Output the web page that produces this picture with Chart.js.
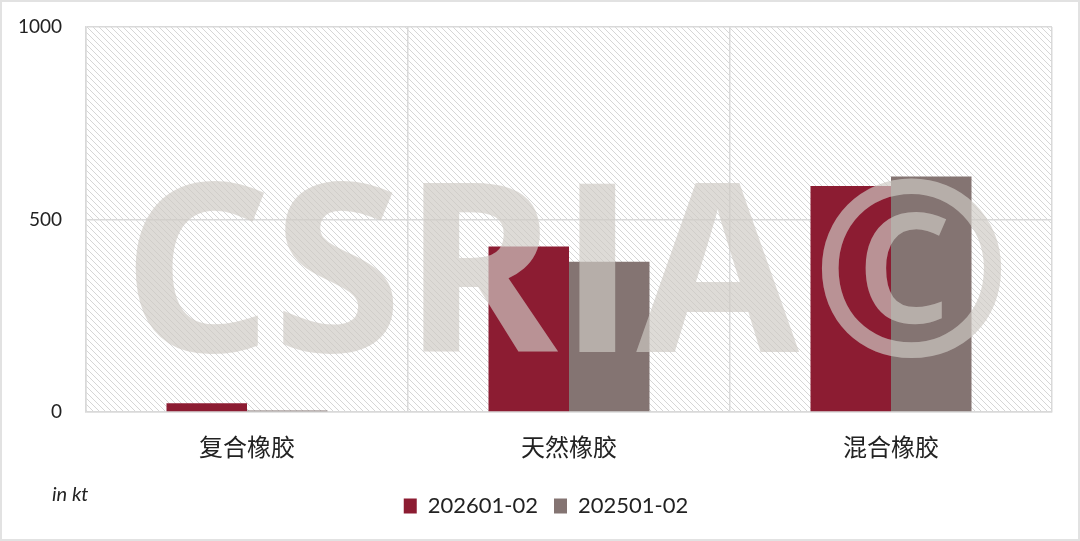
<!DOCTYPE html>
<html>
<head>
<meta charset="utf-8">
<script src="https://cdn.jsdelivr.net/npm/chart.js@4/dist/chart.umd.min.js"></script>
<style>
  html, body { margin: 0; padding: 0; background: #fff; }
  canvas { display: block; }
</style>
</head>
<body>
<canvas id="c" width="1080" height="541"></canvas>
<script>
  // data
  const categories = ["复合橡胶", "天然橡胶", "混合橡胶"];
  const seriesNames = ["202601-02", "202501-02"];
  const values2026 = [23, 430, 587];
  const values2025 = [4, 390, 612];
  const yTicks = [0, 500, 1000];

  const RED = "#8c1c32", GREY = "#847472";
  const FONT = "Lato, 'Noto Sans CJK SC', sans-serif";

  // diagonal hatch for the plot background
  function makeHatch() {
    const s = 6, t = document.createElement("canvas");
    t.width = s; t.height = s;
    const g = t.getContext("2d");
    g.strokeStyle = "#d6d6d6"; g.lineWidth = 1;
    g.beginPath();
    g.moveTo(0, 0); g.lineTo(s, s);
    g.moveTo(-1, s - 1); g.lineTo(1, s + 1);
    g.moveTo(s - 1, -1); g.lineTo(s + 1, 1);
    g.stroke();
    return t;
  }

  const hatchBg = {
    id: "hatchBg",
    beforeDraw(chart) {
      const { ctx, chartArea: a } = chart;
      ctx.save();
      ctx.fillStyle = ctx.createPattern(makeHatch(), "repeat");
      ctx.fillRect(a.left, a.top, a.right - a.left, a.bottom - a.top);
      ctx.restore();
    }
  };

  const watermark = {
    id: "watermark",
    afterDatasetsDraw(chart) {
      const ctx = chart.ctx;
      ctx.save();
      ctx.font = "700 236px 'Open Sans', sans-serif";
      ctx.fillStyle = "rgba(206,202,196,0.68)";
      ctx.textBaseline = "alphabetic";
      ctx.textAlign = "left";
      ctx.fillText("CSRIA", 122, 352);
      ctx.font = "700 244px 'Open Sans', sans-serif";
      ctx.fillText("©", 810, 356);
      ctx.restore();
    }
  };

  // nudge the legend a little right of centre, like the original
  const legendShift = {
    id: "legendShift",
    afterLayout(chart) {
      const lg = chart.legend;
      if (lg) { lg.left += 20; lg.right += 20; }
    }
  };

  const unitLabel = {
    id: "unitLabel",
    afterDraw(chart) {
      const ctx = chart.ctx;
      ctx.save();
      ctx.font = "italic 20px " + FONT;
      ctx.fillStyle = "#222";
      ctx.textBaseline = "middle";
      ctx.fillText("in kt", 52, 495);
      // outer frame
      ctx.strokeStyle = "#e2e2e2"; ctx.lineWidth = 2;
      ctx.strokeRect(1, 1, chart.width - 2, chart.height - 2);
      ctx.restore();
    }
  };

  new Chart(document.getElementById("c"), {
    type: "bar",
    data: {
      labels: categories,
      datasets: [
        { label: seriesNames[0], data: values2026, backgroundColor: RED },
        { label: seriesNames[1], data: values2025, backgroundColor: GREY }
      ]
    },
    options: {
      responsive: false,
      animation: false,
      devicePixelRatio: 1,
      categoryPercentage: 0.5,
      barPercentage: 1.0,
      layout: { padding: { top: 27, right: 28, bottom: 14, left: 0 } },
      plugins: {
        tooltip: { enabled: false },
        legend: {
          position: "bottom",
          labels: {
            boxWidth: 13, boxHeight: 15, padding: 16,
            color: "#222",
            font: { family: FONT, size: 22 }
          }
        }
      },
      scales: {
        x: {
          grid: { offset: true, color: "#d9d9d9", lineWidth: 1.5, drawTicks: false },
          border: { color: "#d9d9d9", width: 1.5 },
          ticks: { color: "#222", padding: 20, font: { family: "'Noto Sans CJK SC', sans-serif", size: 24 } },
          afterFit(s) { s.height = 67; s.paddingLeft = 0; s.paddingRight = 0; }
        },
        y: {
          min: 0, max: 1000,
          afterBuildTicks(s) { s.ticks = yTicks.map(v => ({ value: v })); },
          grid: { color: "#d9d9d9", lineWidth: 1.5, drawTicks: false },
          border: { color: "#d9d9d9", width: 1.5 },
          ticks: { color: "#222", padding: 24, font: { family: FONT, size: 19 }, callback: v => String(v) },
          afterFit(s) { s.width = 86; s.paddingTop = 0; s.paddingBottom = 0; }
        }
      }
    },
    plugins: [hatchBg, watermark, legendShift, unitLabel]
  });
</script>
</body>
</html>
